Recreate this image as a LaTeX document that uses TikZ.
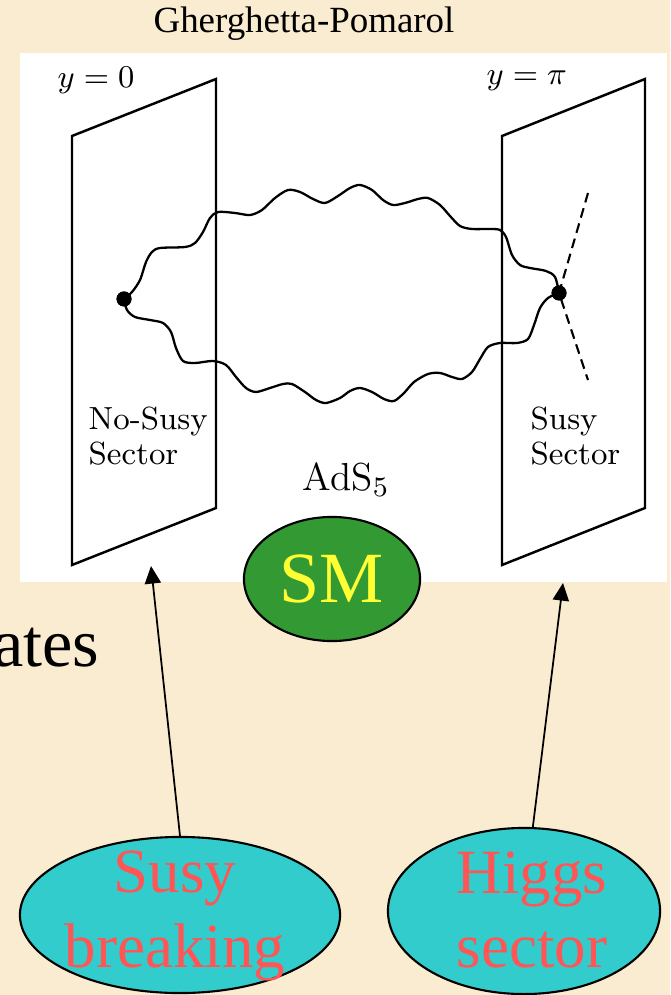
\documentclass[tikz,border=0pt]{standalone}
\usepackage{fontspec}
\newfontfamily\slidefont{Liberation Serif}
\usetikzlibrary{shapes.geometric,arrows.meta}

\definecolor{parchment}{RGB}{249,236,208}
\definecolor{smgreen}{RGB}{51,153,51}
\definecolor{smyellow}{RGB}{255,255,51}
\definecolor{cyanfill}{RGB}{51,204,204}
\definecolor{coral}{RGB}{255,85,85}

\tikzset{
  brane/.style={line width=0.7pt, line join=miter},
  graviton/.style={line width=0.65pt},
  vertex/.style={circle, fill, inner sep=0pt, minimum size=0.15cm},
  scalar/.style={line width=0.6pt, dash pattern=on 2.8pt off 1.7pt},
  cmtext/.style={inner sep=0pt, font=\fontsize{9.1pt}{10pt}\selectfont},
  bubble/.style={ellipse, draw, line width=0.6pt, fill=cyanfill, inner sep=0pt},
  bubbletext/.style={inner sep=0pt, align=center, text=coral,
    font=\slidefont\fontsize{17.9pt}{21.3pt}\selectfont},
  pointer/.style={line width=0.5pt, -{Triangle[length=5pt,width=4.6pt]}}
}

\begin{document}
\begin{tikzpicture} [x=0.01cm, y=-0.01cm]
\clip (0,0) rectangle (670,995);
\fill [parchment] (0,0) rectangle (670,995);
\fill [white] (20,53) rectangle (667,582);

\node [anchor=base, inner sep=0pt, font=\slidefont\fontsize{10.5pt}{12pt}\selectfont]
  (title) at (304,33) {Gherghetta-Pomarol};

% the two branes
\draw [brane] (72,136) -- (216,79) -- (216,508) -- (72,565) -- cycle;
\draw [brane] (502,136) -- (645,79) -- (645,508) -- (502,565) -- cycle;

\node [cmtext, anchor=base west, font=\fontsize{9.5pt}{10pt}\selectfont] (yzero) at (57,88) {$y=0$};
\node [cmtext, anchor=base west, font=\fontsize{9.5pt}{10pt}\selectfont] (ypi) at (486,85) {$y=\pi$};

\node [vertex] (vl) at (124,299) {};
\node [vertex] (vr) at (559,293) {};

% propagators through the bulk
\draw [graviton] plot [smooth] coordinates {(vl.center) (132,292) (140,280) (146,262)
  (152,252) (160,248) (185,247) (195,243) (203,232) (210,218) (218,212) (235,213)
  (250,215) (262,210) (275,198) (288,190) (300,192) (313,199) (325,203) (338,196)
  (350,188) (360,185) (372,190) (383,200) (393,205) (405,203) (418,199) (428,198)
  (440,205) (450,216) (460,226) (472,229) (490,229) (500,230) (506,237) (512,255)
  (520,265) (530,268) (546,271) (555,277) (vr.center)};
\draw [graviton] plot [smooth] coordinates {(vl.center) (127,310) (135,317) (150,320)
  (163,323) (171,332) (176,348) (183,361) (195,363) (213,361) (226,365) (236,377)
  (246,388) (256,392) (270,388) (283,384) (292,384) (305,392) (316,400) (326,403)
  (340,398) (350,391) (360,388) (372,392) (384,399) (394,401) (404,393) (414,382)
  (428,374) (440,373) (452,377) (462,379) (472,372) (480,359) (488,347) (500,343)
  (517,343) (528,339) (534,325) (540,308) (548,298) (vr.center)};

\coordinate (dtop) at (588,193);
\coordinate (dbot) at (588,380);
\draw [scalar] (dtop) -- (vr.center) -- (dbot);
\node [vertex] at (vl) {};
\node [vertex] at (vr) {};

\node [cmtext, anchor=north west, align=left] (nosusy) at (88,406) {No-Susy\\Sector};
\node [cmtext, anchor=north west, align=left] (susy) at (530,406) {Susy\\Sector};
\node [inner sep=0pt, anchor=base west, font=\fontsize{11.1pt}{13pt}\selectfont]
  (ads) at (302,491) {AdS$_5$};

\node [ellipse, draw, line width=0.6pt, fill=smgreen, text=smyellow, inner sep=0pt,
  minimum width=1.76cm, minimum height=1.24cm,
  font=\slidefont\fontsize{20.5pt}{24pt}\selectfont] (sm) at (332,579) {SM};

\node [anchor=base east, inner sep=0pt, font=\slidefont\fontsize{19.4pt}{22pt}\selectfont]
  (ates) at (100,666) {ates};

% the two bubbles below
\node [bubble, minimum width=3.2cm, minimum height=1.56cm] (sb) at (180,915) {};
\node [bubbletext] (sbtext) at (175,916) {Susy\\breaking};
\node [bubble, minimum width=2.72cm, minimum height=1.66cm] (hs) at (524,911) {};
\node [bubbletext] (hstext) at (532,910) {Higgs\\sector};

\coordinate (tipl) at (151,566);
\coordinate (tipr) at (563,583);
\draw [pointer] (sb.north) -- (tipl);
\draw [pointer] (hs.84) -- (tipr);
\end{tikzpicture}
\end{document}
